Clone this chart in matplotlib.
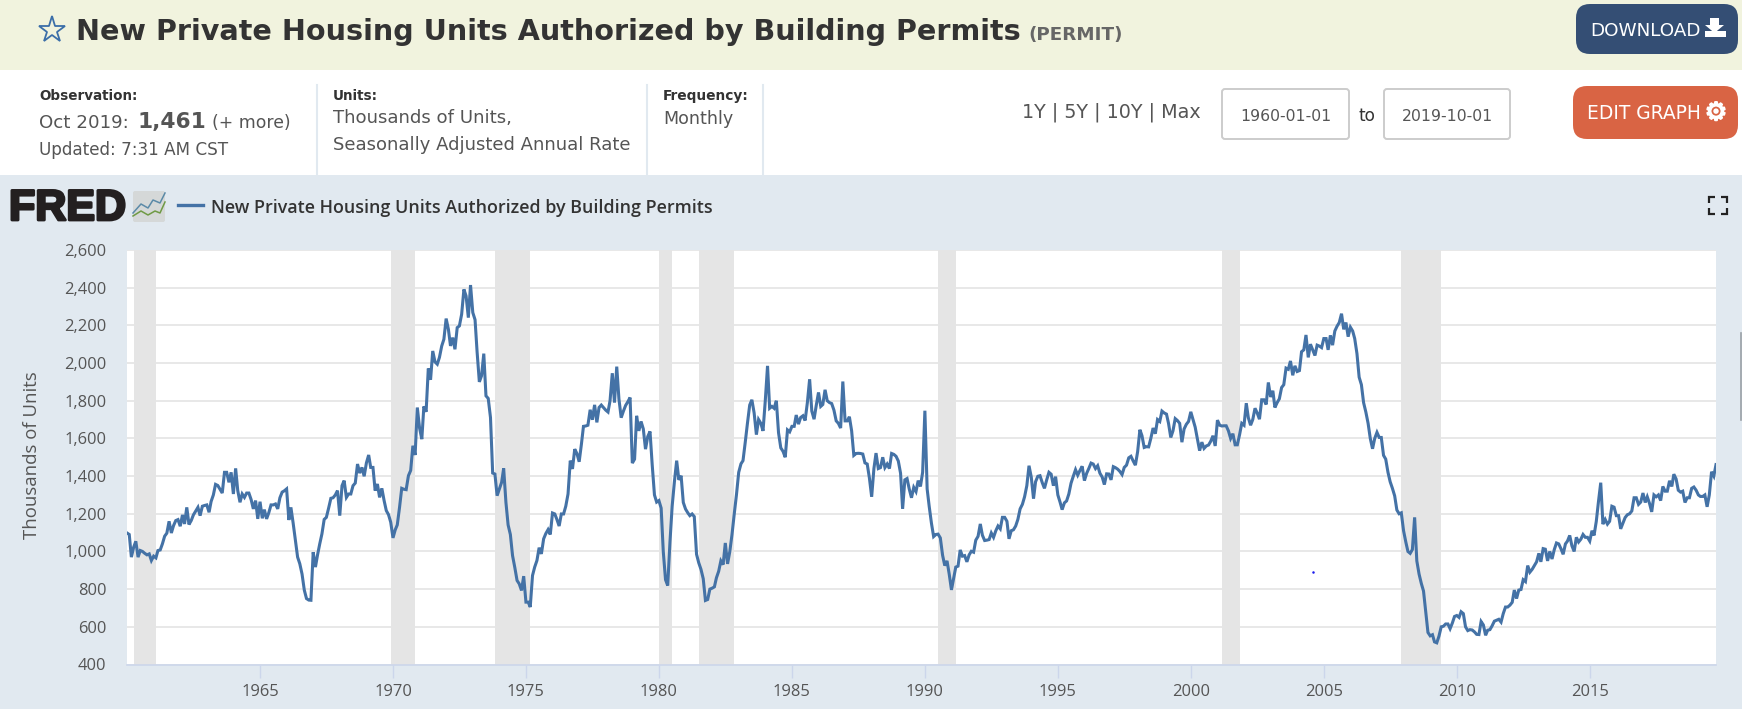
import matplotlib
matplotlib.use("Agg")
import matplotlib.pyplot as plt
import matplotlib.patheffects as pe
import pandas as pd
from matplotlib.patches import FancyBboxPatch, Rectangle, Polygon

# monthly values, thousands of units
permits_1960s = [
    1098, 1090, 970, 1022, 1054, 970, 1005, 1000, 990, 982, 987, 952,
    975, 966, 1005, 1008, 1040, 1081, 1097, 1160, 1098, 1137, 1164, 1169,
    1134, 1194, 1146, 1234, 1143, 1164, 1194, 1214, 1234, 1190, 1240, 1244,
    1247, 1208, 1265, 1300, 1356, 1350, 1330, 1310, 1420, 1420, 1367, 1420,
    1305, 1441, 1323, 1261, 1305, 1287, 1310, 1310, 1275, 1226, 1270, 1173,
    1264, 1176, 1222, 1173, 1205, 1247, 1247, 1252, 1226, 1285, 1315, 1322,
    1332, 1167, 1234, 1150, 1060, 970, 935, 880, 795, 750, 742, 741,
    996, 917, 980, 1040, 1093, 1170, 1181, 1230, 1282, 1285, 1300, 1323,
    1190, 1349, 1376, 1287, 1305, 1305, 1349, 1363, 1464, 1416, 1446, 1399,
    1470, 1512, 1446, 1446, 1323, 1358, 1287, 1335, 1270, 1217, 1195, 1155,
]
permits_1970s = [
    1072, 1115, 1141, 1234, 1335, 1330, 1328, 1402, 1430, 1561, 1512, 1764,
    1655, 1596, 1770, 1741, 1971, 1911, 2064, 2006, 1994, 2030, 2090, 2126,
    2236, 2179, 2091, 2135, 2073, 2188, 2197, 2259, 2391, 2356, 2241, 2414,
    2268, 2230, 2060, 1900, 1932, 2050, 1826, 1812, 1711, 1416, 1411, 1296,
    1332, 1367, 1441, 1261, 1141, 1090, 978, 915, 846, 828, 793, 869,
    731, 731, 705, 872, 917, 952, 1020, 987, 1067, 1095, 1116, 1090,
    1204, 1199, 1170, 1135, 1199, 1199, 1240, 1305, 1482, 1438, 1543, 1520,
    1476, 1570, 1664, 1666, 1670, 1752, 1699, 1778, 1685, 1764, 1777, 1764,
    1750, 1740, 1800, 1946, 1790, 1981, 1810, 1710, 1745, 1775, 1795, 1817,
    1469, 1490, 1720, 1640, 1690, 1650, 1543, 1610, 1637, 1460, 1300, 1262,
]
permits_1980s = [
    1270, 1230, 1000, 850, 819, 1050, 1240, 1370, 1482, 1380, 1402, 1260,
    1225, 1205, 1190, 1199, 1185, 985, 940, 905, 855, 740, 745, 800,
    805, 812, 860, 895, 950, 930, 1045, 934, 1000, 1090, 1200, 1300,
    1420, 1465, 1482, 1580, 1680, 1777, 1805, 1735, 1620, 1700, 1680, 1640,
    1800, 1985, 1760, 1770, 1760, 1800, 1630, 1550, 1531, 1500, 1645, 1635,
    1664, 1664, 1724, 1676, 1711, 1720, 1695, 1790, 1914, 1745, 1702, 1775,
    1844, 1770, 1780, 1858, 1800, 1790, 1785, 1750, 1693, 1680, 1655, 1902,
    1693, 1693, 1715, 1640, 1510, 1520, 1521, 1520, 1517, 1470, 1464, 1390,
    1290, 1440, 1522, 1440, 1445, 1500, 1445, 1464, 1440, 1520, 1515, 1505,
    1480, 1415, 1226, 1380, 1387, 1330, 1285, 1340, 1318, 1376, 1345, 1420,
]
permits_1990s = [
    1747, 1332, 1240, 1150, 1079, 1090, 1092, 1072, 980, 925, 950, 880,
    796, 860, 917, 922, 1008, 975, 978, 945, 982, 1001, 996, 1060,
    1080, 1146, 1086, 1058, 1060, 1063, 1098, 1075, 1110, 1135, 1120, 1181,
    1181, 1160, 1067, 1110, 1115, 1135, 1170, 1226, 1250, 1290, 1349, 1455,
    1395, 1280, 1370, 1399, 1402, 1365, 1335, 1380, 1420, 1410, 1349, 1397,
    1300, 1261, 1222, 1258, 1268, 1305, 1362, 1399, 1434, 1405, 1430, 1452,
    1376, 1415, 1440, 1469, 1464, 1440, 1455, 1415, 1395, 1355, 1412, 1411,
    1380, 1450, 1445, 1437, 1425, 1408, 1446, 1458, 1497, 1505, 1480, 1458,
    1530, 1646, 1615, 1552, 1556, 1555, 1600, 1655, 1625, 1700, 1690, 1745,
    1735, 1729, 1680, 1605, 1640, 1705, 1695, 1680, 1580, 1650, 1675, 1690,
]
permits_2000s = [
    1741, 1700, 1660, 1595, 1535, 1580, 1547, 1560, 1565, 1585, 1614, 1560,
    1697, 1670, 1666, 1667, 1667, 1640, 1600, 1625, 1566, 1566, 1620, 1680,
    1670, 1787, 1710, 1670, 1700, 1760, 1735, 1702, 1805, 1805, 1780, 1897,
    1820, 1853, 1764, 1790, 1810, 1870, 1885, 1973, 1967, 2011, 1935, 1985,
    1955, 1960, 2060, 2070, 2149, 2030, 2100, 2070, 2040, 2095, 2090, 2082,
    2130, 2130, 2070, 2147, 2095, 2170, 2195, 2215, 2262, 2179, 2215, 2140,
    2190, 2170, 2130, 2050, 1925, 1885, 1790, 1740, 1680, 1600, 1545, 1600,
    1632, 1605, 1605, 1510, 1490, 1420, 1370, 1335, 1295, 1220, 1200, 1205,
    1110, 1050, 1000, 990, 1010, 1181, 950, 880, 830, 790, 680, 570,
    552, 558, 520, 515, 550, 600, 603, 615, 615, 590, 620, 655,
]
permits_2010s = [
    660, 650, 680, 670, 600, 580, 585, 583, 573, 560, 559, 628,
    610, 555, 582, 585, 605, 630, 635, 640, 625, 670, 705, 705,
    715, 730, 795, 750, 795, 798, 850, 840, 925, 890, 905, 925,
    945, 990, 945, 1015, 1012, 950, 1000, 960, 1010, 1045, 1040, 1015,
    985, 1040, 1055, 1085, 1030, 1000, 1075, 1050, 1065, 1090, 1075, 1075,
    1055, 1110, 1085, 1160, 1265, 1365, 1145, 1170, 1145, 1160, 1240, 1235,
    1190, 1190, 1120, 1150, 1180, 1195, 1200, 1215, 1285, 1285, 1250, 1262,
    1310, 1260, 1290, 1255, 1210, 1300, 1290, 1300, 1270, 1345, 1320, 1320,
    1375, 1345, 1410, 1385, 1325, 1315, 1320, 1260, 1285, 1285, 1335, 1342,
    1325, 1300, 1292, 1292, 1300, 1237, 1300, 1423, 1400, 1461,
]

recession_starts = ["1960-04-01", "1969-12-01", "1973-11-01", "1980-01-01",
                    "1981-07-01", "1990-07-01", "2001-03-01", "2007-12-01"]
recession_ends = ["1961-02-01", "1970-11-01", "1975-03-01", "1980-07-01",
                  "1982-11-01", "1991-03-01", "2001-11-01", "2009-06-01"]

y_ticks = [400, 600, 800, 1000, 1200, 1400, 1600, 1800, 2000, 2200, 2400, 2600]
x_tick_years = [1965, 1970, 1975, 1980, 1985, 1990, 1995, 2000, 2005, 2010, 2015]

title = "New Private Housing Units Authorized by Building Permits"
series_id = "(PERMIT)"
y_label = "Thousands of Units"

permits = (permits_1960s + permits_1970s + permits_1980s
           + permits_1990s + permits_2000s + permits_2010s)
dates = pd.date_range("1960-01-01", periods=len(permits), freq="MS")

W, H = 1742, 709
LINE = "#4472a6"
TXT = "#555555"
DARK = "#333333"
PANEL = "#e1e9f0"
HEAD = "DejaVu Sans"


def pt(px):
    return px * 0.72


plt.rcParams["font.family"] = ["Open Sans", "DejaVu Sans"]
fig = plt.figure(figsize=(W / 100, H / 100), dpi=100, facecolor="white")

# page furniture, in pixel coordinates
bg = fig.add_axes([0, 0, 1, 1], zorder=0)
bg.set_xlim(0, W)
bg.set_ylim(H, 0)
bg.axis("off")

bg.add_patch(Rectangle((0, 0), W, 70, fc="#f1f3de", ec="none"))
bg.add_patch(Rectangle((0, 175), W, H - 175, fc=PANEL, ec="none"))

bg.plot([52], [30], marker="*", ms=20, mfc="none", mec="#3b6ea8", mew=1.3)
bg.text(76, 40, title, fontsize=pt(28.6), fontweight="bold", color=DARK, va="baseline", family=HEAD)
bg.text(1028, 40, series_id, fontsize=pt(18.4), fontweight="bold", color="#666666", va="baseline", family=HEAD)


def button(x0, x1, y0, y1, color):
    bg.add_patch(FancyBboxPatch((x0 + 14, y0 + 14), x1 - x0 - 28, y1 - y0 - 28,
                                boxstyle="round,pad=14,rounding_size=14",
                                fc=color, ec="none"))


button(1576, 1738, 4, 54, "#344e74")
bg.text(1590, 36, "DOWNLOAD", fontsize=pt(18.4), color="white", va="baseline", family=HEAD)
bg.add_patch(Polygon([(1710, 18), (1719, 18), (1719, 25), (1724, 25), (1714.5, 33), (1705, 25), (1710, 25)],
                     fc="white", ec="none"))
bg.add_patch(Rectangle((1705, 31), 21, 6, fc="white", ec="none"))

button(1573, 1738, 86, 139, "#d96444")
bg.text(1587, 119, "EDIT GRAPH", fontsize=pt(18.6), color="white", va="baseline", family=HEAD)
bg.text(1716, 113, "\u2699", fontsize=pt(25), fontweight="bold", color="white", va="center", ha="center",
        family=HEAD, path_effects=[pe.withStroke(linewidth=1.2, foreground="white")])

for x in [317, 647, 763]:
    bg.plot([x, x], [85, 175], color=PANEL, lw=1.5)

bg.text(39, 100, "Observation:", fontsize=pt(13.5), fontweight="bold", color=DARK, va="baseline", family=HEAD)
bg.text(39, 128, "Oct 2019:", fontsize=pt(18.3), color=TXT, va="baseline", family=HEAD)
bg.text(137, 128, "1,461", fontsize=pt(21.6), fontweight="bold", color=TXT, va="baseline", family=HEAD)
bg.text(212, 128, "(+ more)", fontsize=pt(17.3), color=TXT, va="baseline", family=HEAD)
bg.text(39, 155, "Updated: 7:31 AM CST", fontsize=pt(16.7), color=TXT, va="baseline", family=HEAD)

bg.text(333, 100, "Units:", fontsize=pt(13.5), fontweight="bold", color=DARK, va="baseline", family=HEAD)
bg.text(333, 123, "Thousands of Units,", fontsize=pt(18.2), color=TXT, va="baseline", family=HEAD)
bg.text(333, 150, "Seasonally Adjusted Annual Rate", fontsize=pt(18), color=TXT, va="baseline", family=HEAD)

bg.text(663, 100, "Frequency:", fontsize=pt(13.7), fontweight="bold", color=DARK, va="baseline", family=HEAD)
bg.text(663, 124, "Monthly", fontsize=pt(17.5), color=TXT, va="baseline", family=HEAD)

bg.text(1022, 117, "1Y | 5Y | 10Y | Max", fontsize=pt(19.2), color=TXT, va="baseline", family=HEAD)
for x0, x1, label in [(1222, 1349, "1960-01-01"), (1384, 1510, "2019-10-01")]:
    bg.add_patch(FancyBboxPatch((x0 + 3, 92), x1 - x0 - 6, 44, boxstyle="round,pad=3,rounding_size=3",
                                fc="white", ec="#cccccc", lw=1.4))
    bg.text((x0 + x1) / 2, 121, label, fontsize=pt(15.6), color=TXT, va="baseline", ha="center", family=HEAD)
bg.text(1367, 121, "to", fontsize=pt(17), color=DARK, va="baseline", ha="center", family=HEAD)

# FRED logo, thumbnail, legend
bg.text(9, 220, "FRED", fontsize=pt(43), fontweight="bold", color="#231f20", va="baseline",
        family="Liberation Sans",
        path_effects=[pe.withStroke(linewidth=2, foreground="#231f20")])
bg.add_patch(FancyBboxPatch((135, 193), 28, 27, boxstyle="round,pad=2,rounding_size=2",
                            fc="#d5d8d8", ec="none"))
bg.plot([133, 141, 148, 153, 160, 165], [213, 204, 208, 200, 203, 193], color="#5b8aa8", lw=1.1)
bg.plot([133, 141, 148, 155, 160, 165], [216, 211, 215, 211, 213, 202], color="#6f9a45", lw=1.1)
bg.plot([178, 203], [205, 205], color=LINE, lw=2.4)
bg.text(211, 213, title, fontsize=pt(17.9), fontweight="semibold", color=DARK, va="baseline")

for cx, cy, dx, dy in [(1709, 197, 1, 1), (1727, 197, -1, 1), (1709, 214, 1, -1), (1727, 214, -1, -1)]:
    bg.plot([cx + 6 * dx, cx, cx], [cy, cy, cy + 6 * dy], color="#222222", lw=1.6,
            solid_capstyle="butt", solid_joinstyle="miter")

bg.plot([1741, 1741], [333, 420], color="#9aa0a6", lw=1.2)

# the chart itself
left, right, top, bottom = 127, 1716, 250, 664.5
ax = fig.add_axes([left / W, 1 - bottom / H, (right - left) / W, (bottom - top) / H], zorder=1)
ax.set_facecolor("white")

ax.grid(axis="y", color="#e6e6e6", lw=1.3, zorder=1)
ax.set_axisbelow(True)
for s, e in zip(recession_starts, recession_ends):
    ax.axvspan(pd.Timestamp(s), pd.Timestamp(e), color="#e5e5e5", lw=0, zorder=2)
ax.plot(dates, permits, color=LINE, lw=2.2, zorder=3, solid_joinstyle="miter")

ax.set_xlim(dates[0], dates[-1])
ax.set_ylim(400, 2600)
ax.set_yticks(y_ticks)
ax.set_yticklabels([f"{v:,}" for v in y_ticks], fontsize=pt(16.5), color=TXT)
ax.set_xticks([pd.Timestamp(f"{y}-01-01") for y in x_tick_years])
ax.set_xticklabels([str(y) for y in x_tick_years], fontsize=pt(16.5), color=TXT)
ax.tick_params(axis="y", length=0, pad=15)
ax.tick_params(axis="x", length=pt(13), width=1, color="#ccd6eb", pad=5)
for side in ["top", "right", "left"]:
    ax.spines[side].set_visible(False)
ax.spines["bottom"].set_color("#ccd6eb")
ax.spines["bottom"].set_linewidth(1.2)

# stray blue dot sitting on the screenshot
bg2 = fig.add_axes([0, 0, 1, 1], zorder=2)
bg2.set_xlim(0, W)
bg2.set_ylim(H, 0)
bg2.axis("off")
bg2.patch.set_alpha(0)
bg2.plot([1313.3], [571.7], marker="o", ms=1.8, color="#1a1aee", mew=0)
bg2.text(32, 455.5, y_label, fontsize=pt(18.6), color=TXT, rotation=90, va="center", ha="center")

fig.savefig("out.png", dpi=100)
